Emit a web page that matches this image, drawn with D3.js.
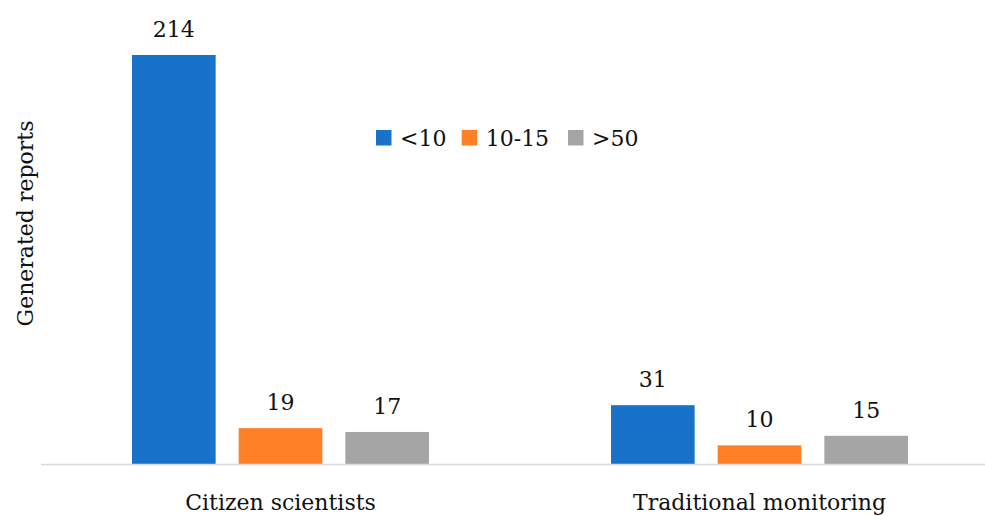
<!DOCTYPE html>
<html>
<head>
<meta charset="utf-8">
<script src="https://cdn.jsdelivr.net/npm/d3@7"></script>
<style>
  html, body { margin: 0; padding: 0; background: #fff; }
  svg { display: block; font-family: "DejaVu Serif", "Liberation Serif", serif; }
</style>
</head>
<body>
<svg id="chart" width="985" height="516"></svg>
<script>
// Report counts by observer group and size class
const categories = ["Citizen scientists", "Traditional monitoring"];
const seriesNames = ["<10", "10-15", ">50"];
const lessThan10 = [214, 31];
const from10to15 = [19, 10];
const over50 = [17, 15];
const seriesColors = ["#1872C9", "#FF7F27", "#A5A5A5"];
const yTitle = "Generated reports";

const seriesValues = [lessThan10, from10to15, over50];
const rows = categories.map((c, i) => ({
  category: c,
  values: seriesNames.map((s, j) => ({ series: s, value: seriesValues[j][i], color: seriesColors[j] }))
}));

const svg = d3.select("#chart");
const baseY = 464.5;

const x0 = d3.scaleBand().domain(categories).range([41, 999]).padding(0);
const bw0 = x0.bandwidth();
const x1 = d3.scaleBand().domain(seriesNames)
  .range([bw0 * 0.19, bw0 * 0.81]).paddingInner(0.216).paddingOuter(0);
const y = d3.scaleLinear().domain([0, 214]).range([baseY, 55]);

// bars and value labels
const groups = svg.append("g").selectAll("g").data(rows).join("g")
  .attr("transform", d => `translate(${x0(d.category)},0)`);

groups.selectAll("rect").data(d => d.values).join("rect")
  .attr("x", d => x1(d.series))
  .attr("width", x1.bandwidth())
  .attr("y", d => y(d.value))
  .attr("height", d => baseY - y(d.value))
  .attr("fill", d => d.color);

groups.selectAll("text.val").data(d => d.values).join("text")
  .attr("class", "val")
  .attr("x", d => x1(d.series) + x1.bandwidth() / 2)
  .attr("y", d => y(d.value) - 18)
  .attr("text-anchor", "middle")
  .attr("font-size", 22)
  .attr("fill", "#111")
  .text(d => d.value);

// baseline axis
const xAxis = d3.axisBottom(x0).tickSize(0).tickPadding(0);
const axisG = svg.append("g").attr("transform", `translate(0,${baseY})`).call(xAxis);
axisG.select(".domain").attr("stroke", "#d9d9d9").attr("stroke-width", 1.6)
  .attr("d", "M41,0H985");
axisG.selectAll(".tick text")
  .attr("y", 45)
  .attr("dy", null)
  .attr("font-size", 22)
  .attr("font-family", "DejaVu Serif, Liberation Serif, serif")
  .attr("fill", "#111");

// y axis title
svg.append("text")
  .attr("transform", "translate(33,223.5) rotate(-90)")
  .attr("text-anchor", "middle")
  .attr("font-size", 22)
  .attr("fill", "#111")
  .text(yTitle);

// legend
const legendX = [376, 461.7, 568];
const legend = svg.append("g").selectAll("g").data(seriesNames).join("g")
  .attr("transform", (d, i) => `translate(${legendX[i]},130)`);
legend.append("rect")
  .attr("width", 15.5).attr("height", 15.5)
  .attr("fill", (d, i) => seriesColors[i]);
legend.append("text")
  .attr("x", 24).attr("y", 15.5)
  .attr("font-size", 22)
  .attr("fill", "#111")
  .text(d => d);
</script>
</body>
</html>
